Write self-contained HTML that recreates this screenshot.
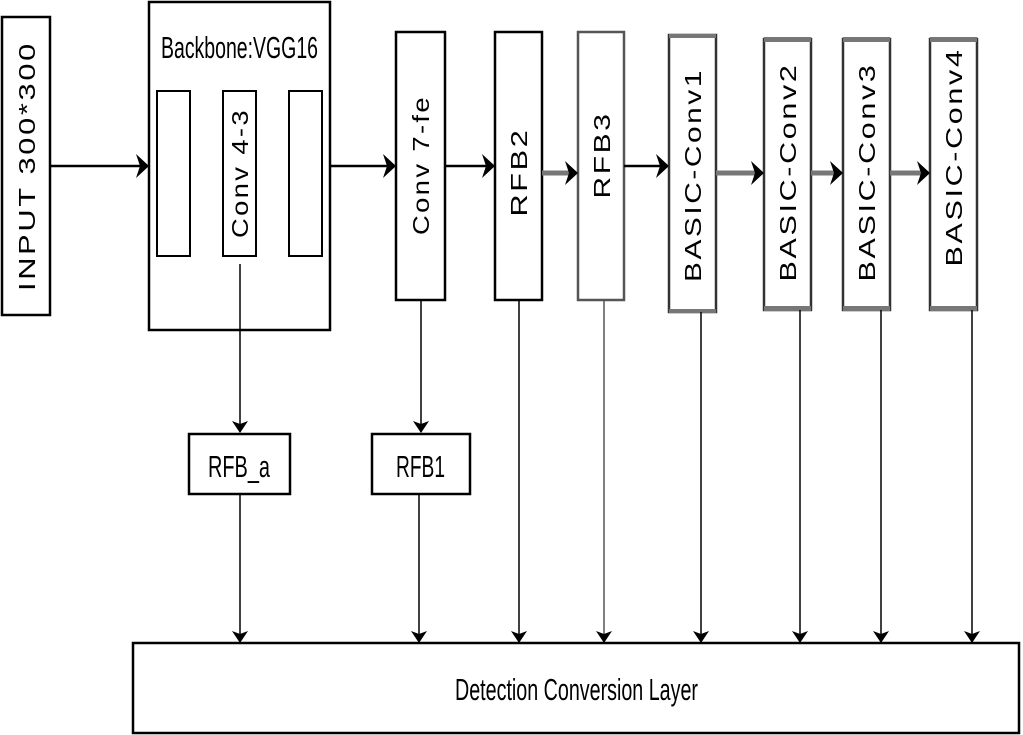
<!DOCTYPE html>
<html><head><meta charset="utf-8"><style>
html,body{margin:0;padding:0;background:#fff;}
svg{display:block;font-family:"Liberation Sans",sans-serif;}
</style></head><body>
<svg width="1023" height="735" viewBox="0 0 1023 735">
<defs>
<marker id="d" markerWidth="12" markerHeight="18" refX="11" refY="9" orient="auto" markerUnits="userSpaceOnUse">
<path d="M0,1 L12,9 L0,17 L3,9 Z" fill="#000"/></marker>
</defs>
<g fill="#fff" stroke="#000" stroke-width="2.5">
<rect x="2" y="17" width="48" height="298"/>
<rect x="149" y="2" width="181" height="328"/>
<rect x="157" y="91" width="33" height="165" stroke-width="2"/>
<rect x="223" y="91" width="33" height="165" stroke-width="2"/>
<rect x="289" y="91" width="33" height="165" stroke-width="2"/>
<rect x="396" y="32" width="49" height="268"/>
<rect x="495" y="32" width="47" height="268"/>
<rect x="578" y="32" width="46" height="268" stroke="#555"/>
<rect x="669" y="35" width="47" height="277" stroke="#333"/>
<rect x="764" y="39" width="47" height="271" stroke="#333"/>
<rect x="843" y="39" width="47" height="271" stroke="#333"/>
<rect x="930" y="39" width="47" height="271" stroke="#333"/>
<rect x="189" y="434" width="101" height="60"/>
<rect x="372" y="434" width="98" height="60"/>
<rect x="133" y="643" width="886" height="90"/>
</g>
<g fill="#777">
<rect x="669" y="34" width="47" height="4"/><rect x="669" y="309" width="47" height="4"/>
<rect x="764" y="37" width="47" height="5"/><rect x="764" y="306" width="47" height="5"/>
<rect x="843" y="37" width="47" height="5"/><rect x="843" y="306" width="47" height="5"/>
<rect x="930" y="37" width="47" height="5"/><rect x="930" y="306" width="47" height="5"/>
</g>
<g stroke="#000" stroke-width="2.5" fill="none">
<line x1="50" y1="166" x2="140" y2="166"/>
<line x1="330" y1="166" x2="388" y2="166"/>
<line x1="445" y1="166" x2="486" y2="166"/>
<line x1="624" y1="166" x2="660" y2="166"/>
</g>
<g fill="#000">
<path d="M136,154 L149,166 L136,178 L140,166Z"/>
<path d="M383,154 L396,166 L383,178 L387,166Z"/>
<path d="M482,154 L495,166 L482,178 L486,166Z"/>
<path d="M656,154 L669,166 L656,178 L660,166Z"/>
</g>
<g stroke="#777" stroke-width="5" fill="none">
<line x1="542" y1="173" x2="570" y2="173"/>
<line x1="716" y1="173" x2="756" y2="173"/>
<line x1="811" y1="173" x2="835" y2="173"/>
<line x1="890" y1="173" x2="922" y2="173"/>
</g>
<g fill="#000">
<path d="M565,161 L578,173 L565,185 L569,173Z"/>
<path d="M751,161 L764,173 L751,185 L755,173Z"/>
<path d="M830,161 L843,173 L830,185 L834,173Z"/>
<path d="M917,161 L930,173 L917,185 L921,173Z"/>
</g>
<g stroke="#000" stroke-width="1.5" fill="none">
<line x1="240" y1="264" x2="240" y2="432" marker-end="url(#d)"/>
<line x1="421" y1="300" x2="421" y2="432" marker-end="url(#d)"/>
<line x1="240" y1="494" x2="240" y2="642" marker-end="url(#d)"/>
<line x1="419" y1="494" x2="419" y2="642" marker-end="url(#d)"/>
<line x1="519" y1="300" x2="519" y2="642" marker-end="url(#d)"/>
<line x1="604" y1="300" x2="604" y2="642" marker-end="url(#d)" stroke="#555"/>
<line x1="701" y1="312" x2="701" y2="642" marker-end="url(#d)"/>
<line x1="800" y1="310" x2="800" y2="642" marker-end="url(#d)"/>
<line x1="881" y1="310" x2="881" y2="642" marker-end="url(#d)"/>
<line x1="972" y1="310" x2="972" y2="642" marker-end="url(#d)"/>
</g>
<g font-size="23" fill="#000" text-anchor="middle" lengthAdjust="spacingAndGlyphs" letter-spacing="2">
<text transform="translate(35,166) rotate(-90)" textLength="250" lengthAdjust="spacingAndGlyphs">INPUT 300*300</text>
<text transform="translate(248,173) rotate(-90)" textLength="130" lengthAdjust="spacingAndGlyphs">Conv 4-3</text>
<text transform="translate(429,165) rotate(-90)" textLength="140" lengthAdjust="spacingAndGlyphs">Conv 7-fe</text>
<text transform="translate(527,172) rotate(-90)" textLength="89" lengthAdjust="spacingAndGlyphs">RFB2</text>
<text transform="translate(610,155) rotate(-90)" textLength="87" lengthAdjust="spacingAndGlyphs">RFB3</text>
<text transform="translate(701,175) rotate(-90)" textLength="214" lengthAdjust="spacingAndGlyphs">BASIC-Conv1</text>
<text transform="translate(796,172) rotate(-90)" textLength="219" lengthAdjust="spacingAndGlyphs">BASIC-Conv2</text>
<text transform="translate(875,172) rotate(-90)" textLength="219" lengthAdjust="spacingAndGlyphs">BASIC-Conv3</text>
<text transform="translate(962,157) rotate(-90)" textLength="219" lengthAdjust="spacingAndGlyphs">BASIC-Conv4</text>
</g>
<g font-size="31" fill="#000">
<text x="161" y="58" textLength="157" lengthAdjust="spacingAndGlyphs">Backbone:VGG16</text>
<text x="208" y="477" textLength="62" lengthAdjust="spacingAndGlyphs">RFB_a</text>
<text x="396" y="477" textLength="49" lengthAdjust="spacingAndGlyphs">RFB1</text>
<text x="455" y="700" textLength="243" lengthAdjust="spacingAndGlyphs">Detection Conversion Layer</text>
</g>
</svg>
</body></html>
